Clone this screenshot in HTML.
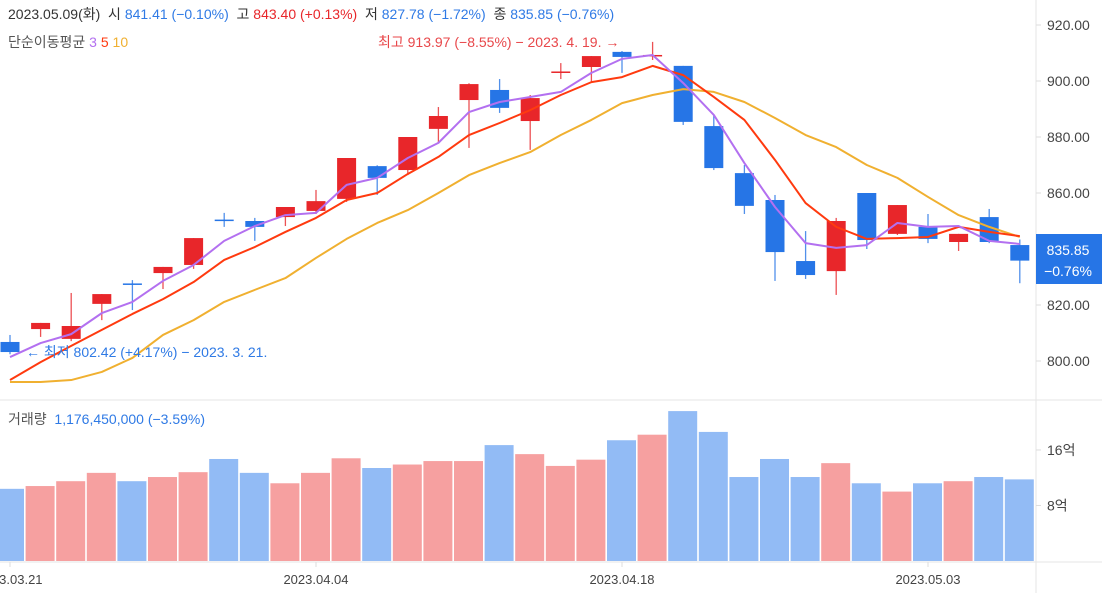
<!DOCTYPE html>
<html><head><meta charset="utf-8">
<style>
body{margin:0;background:#fff;width:1102px;height:593px;overflow:hidden;font-family:"Liberation Sans","Noto Sans CJK KR",sans-serif;}
svg{position:absolute;left:0;top:0}
</style></head>
<body>
<svg id="chart" width="1102" height="593">
  <line x1="1036" y1="0" x2="1036" y2="593" stroke="#e6e6e6"/>
  <line x1="0" y1="400" x2="1102" y2="400" stroke="#e6e6e6"/>
  <line x1="0" y1="562" x2="1102" y2="562" stroke="#e6e6e6"/>
  <g id="candles"></g>
  <g id="mas"></g>
  <g id="vols"></g>
  <g id="axes"></g>
  <g font-size="14">
    <text x="8" y="19" fill="#333">2023.05.09(화)&#160; 시 <tspan fill="#2f7ae5">841.41 (−0.10%)</tspan>&#160; 고 <tspan fill="#e8262a">843.40 (+0.13%)</tspan>&#160; 저 <tspan fill="#2f7ae5">827.78 (−1.72%)</tspan>&#160; 종 <tspan fill="#2f7ae5">835.85 (−0.76%)</tspan></text>
    <text x="8" y="47" fill="#555">단순이동평균 <tspan fill="#b370f0">3</tspan> <tspan fill="#ff3a0f">5</tspan> <tspan fill="#f0b030">10</tspan></text>
    <text x="378" y="47" fill="#e8474a">최고 913.97 (−8.55%) − 2023. 4. 19. →</text>
    <text x="26" y="357" fill="#2f7ae5">← 최저 802.42 (+4.17%) − 2023. 3. 21.</text>
    <text x="8" y="424" fill="#555">거래량 &#160;<tspan fill="#2f7ae5">1,176,450,000 (−3.59%)</tspan></text>
  </g>
  <rect x="1036" y="234" width="66" height="50" fill="#2675e6"/>
  <text x="1068" y="255" font-size="14" fill="#fff" text-anchor="middle">835.85</text>
  <text x="1068" y="276" font-size="14" fill="#fff" text-anchor="middle">−0.76%</text>
</svg>
<script>
const dates=["03.21","03.22","03.23","03.24","03.27","03.28","03.29","03.30","03.31","04.03","04.04","04.05","04.06","04.07","04.10","04.11","04.12","04.13","04.14","04.17","04.18","04.19","04.20","04.21","04.24","04.25","04.26","04.27","04.28","05.02","05.03","05.04","05.08","05.09"];
const opens=[806.8,811.4,807.9,820.4,827.7,831.4,834.3,850.5,850.0,851.4,853.6,857.9,869.6,868.2,882.9,893.2,896.8,885.7,903.0,905.0,910.4,909.1,905.4,883.9,867.1,857.5,835.7,832.1,860.0,845.4,847.9,842.5,851.4,841.41];
const highs=[809.3,813.6,824.3,823.9,828.9,833.6,843.9,852.9,851.1,855.0,861.1,872.5,869.9,880.0,890.7,899.2,900.7,895.0,906.4,908.9,910.7,913.97,905.4,887.9,870.0,859.3,846.4,851.1,860.0,855.7,852.5,845.4,854.3,843.40];
const lows=[802.42,808.6,807.1,814.6,818.2,825.7,832.9,847.9,842.9,848.2,852.5,856.8,859.3,866.4,877.9,876.1,888.6,875.4,900.7,899.6,902.9,907.5,884.3,868.2,852.5,828.6,829.3,823.6,840.0,845.0,842.1,839.3,842.1,827.78];
const closes=[803.2,813.6,812.5,823.9,827.5,833.6,843.9,850.4,847.9,855.0,857.1,872.5,865.4,880.0,887.5,898.9,890.4,893.9,903.4,908.9,908.6,909.3,885.4,868.9,855.4,838.9,830.7,850.0,843.2,855.7,843.6,845.4,842.5,835.85];
const ma3=[801.4,806.4,809.6,817.1,821.1,828.6,834.3,842.9,848.2,852.1,852.9,862.9,865.4,872.5,877.9,888.9,892.5,894.3,896.1,902.9,907.9,909.3,899.3,887.9,870.7,855.0,842.1,840.4,841.4,849.3,847.9,848.2,842.9,841.8];
const ma5=[793.2,799.6,805.4,811.1,816.8,822.1,828.2,836.1,840.7,846.1,851.1,857.5,860.0,866.8,872.9,880.7,885.0,889.6,895.0,899.6,901.4,905.4,902.1,894.3,886.1,871.8,856.4,847.9,843.6,843.9,844.3,847.9,846.1,844.6];
const ma10=[792.5,792.5,793.2,796.1,801.1,809.3,814.6,821.1,825.4,829.6,836.8,843.6,849.3,853.9,860.0,866.4,870.7,874.6,880.7,886.1,892.1,895.0,897.1,896.1,892.5,886.8,880.7,876.4,870.0,865.4,858.6,852.1,847.9,844.3];
const volumes=[10.4,10.8,11.5,12.7,11.5,12.1,12.8,14.7,12.7,11.2,12.7,14.8,13.4,13.9,14.4,14.4,16.7,15.4,13.7,14.6,17.4,18.2,21.6,18.6,12.1,14.7,12.1,14.1,11.2,10.0,11.2,11.5,12.1,11.76];
const priceTicks=[920,900,880,860,840,820,800];
const volTicks=[16,8];
const dateTicks=["03.21","04.04","04.18","05.03"];

const NS="http://www.w3.org/2000/svg";
const X=i=>10+i*30.6;
const Y=v=>25+(920-v)*2.8;
const VY=v=>561-v*6.94;
function mk(tag,attrs,parent){const e=document.createElementNS(NS,tag);for(const k in attrs)e.setAttribute(k,attrs[k]);parent.appendChild(e);return e;}
const RED="#e8262a",BLUE="#2675e6";
const cg=document.getElementById('candles'),vg=document.getElementById('vols'),mg=document.getElementById('mas'),ag=document.getElementById('axes');
dates.forEach((d,i)=>{
  const up=closes[i]>=opens[i];const col=up?RED:BLUE;
  const w=mk('line',{x1:X(i),x2:X(i),y1:Y(highs[i]),y2:Y(lows[i]),stroke:col,'stroke-width':1.3,opacity:0.8},cg);
  
  
  const top=Y(Math.max(opens[i],closes[i])),bot=Y(Math.min(opens[i],closes[i]));
  const b=mk('rect',{x:X(i)-9.5,y:top,width:19,height:Math.max(bot-top,1.5),fill:col},cg);
  
  
  const v=mk('rect',{x:X(i)-15,y:VY(volumes[i]),width:29,height:561-VY(volumes[i]),fill:up?"#f6a0a0":"#92bbf5"},vg);
  
  
});
[[ma10,"#f0b030","ma10-line"],[ma5,"#ff3a0f","ma5-line"],[ma3,"#b370f0","ma3-line"]].forEach(([arr,c,n])=>{
  const p=mk('polyline',{points:arr.map((v,i)=>X(i)+","+Y(v)).join(" "),fill:"none",stroke:c,'stroke-width':2,'stroke-linejoin':'round'},mg);
  
  
});
priceTicks.forEach(t=>{
  mk('line',{x1:1036,x2:1041,y1:Y(t),y2:Y(t),stroke:"#ddd"},ag);
  const e=mk('text',{x:1047,y:Y(t)+5,'font-size':14,fill:"#444"},ag);e.textContent=t.toFixed(2);
  
  
});
volTicks.forEach(t=>{
  mk('line',{x1:1036,x2:1041,y1:VY(t),y2:VY(t),stroke:"#ddd"},ag);
  const e=mk('text',{x:1047,y:VY(t)+5,'font-size':14,fill:"#444"},ag);e.textContent=t+"억";
  
  
});
dateTicks.forEach(d=>{
  const i=dates.indexOf(d);
  mk('line',{x1:X(i),x2:X(i),y1:562,y2:567,stroke:"#ddd"},ag);
  const e=mk('text',{x:X(i),y:584,'font-size':13,fill:"#444",'text-anchor':'middle'},ag);e.textContent="2023."+d;
  
  
});
</script>
</body></html>
